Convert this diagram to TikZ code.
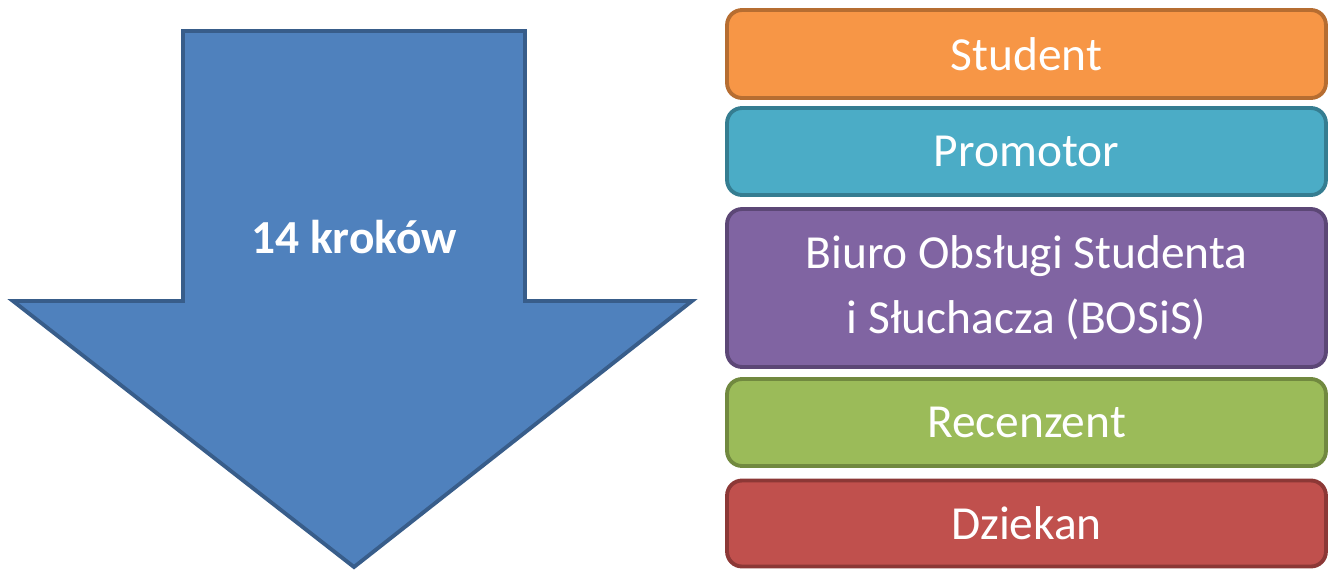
\documentclass[tikz,border=0pt]{standalone}
\usepackage{fontspec}
\setmainfont{Carlito}
\definecolor{arrowblue}{RGB}{79,129,189}
\definecolor{arrowedge}{RGB}{56,93,138}
\definecolor{orangefill}{RGB}{247,150,70}
\definecolor{orangeedge}{RGB}{182,109,49}
\definecolor{aquafill}{RGB}{75,172,198}
\definecolor{aquaedge}{RGB}{53,125,145}
\definecolor{violetfill}{RGB}{128,100,162}
\definecolor{violetedge}{RGB}{92,71,118}
\definecolor{olivefill}{RGB}{155,187,89}
\definecolor{oliveedge}{RGB}{113,137,63}
\definecolor{redfill}{RGB}{192,80,77}
\definecolor{rededge}{RGB}{140,56,54}
\tikzset{
  rolebox/.style 2 args={draw=#2,fill=#1,line width=2.2pt,rounded corners=8.5pt,
    minimum width=11.98cm,text=white,align=center,
    font=\fontsize{27}{37}\selectfont,inner sep=0pt}
}

\begin{document}
\begin{tikzpicture}[x=0.02cm,y=-0.02cm]
\useasboundingbox (0,0) rectangle (1330,572);
% the big arrow
\draw[line width=2.2pt,arrowedge,fill=arrowblue,line join=miter]
  (183,31)--(525,31)--(525,301)--(692,301)--(354,567)--(13,301)--(183,301)--cycle;
\node[text=white,font=\bfseries\fontsize{27}{37}\selectfont] (steps) at (354,237) {14 kroków};
% the roles
\node[rolebox={orangefill}{orangeedge},minimum height=1.76cm] (student) at (1026.5,54) {Student};
\node[rolebox={aquafill}{aquaedge},minimum height=1.74cm] (promotor) at (1026.5,151.5) {Promotor};
\node[rolebox={violetfill}{violetedge},minimum height=3.16cm] (bosis) at (1026.5,288) {Biuro Obsługi Studenta\\i Słuchacza (BOSiS)};
\node[rolebox={olivefill}{oliveedge},minimum height=1.74cm] (recenzent) at (1026.5,422.5) {Recenzent};
\node[rolebox={redfill}{rededge},minimum height=1.72cm] (dziekan) at (1026.5,523.5) {Dziekan};
\end{tikzpicture}
\end{document}
